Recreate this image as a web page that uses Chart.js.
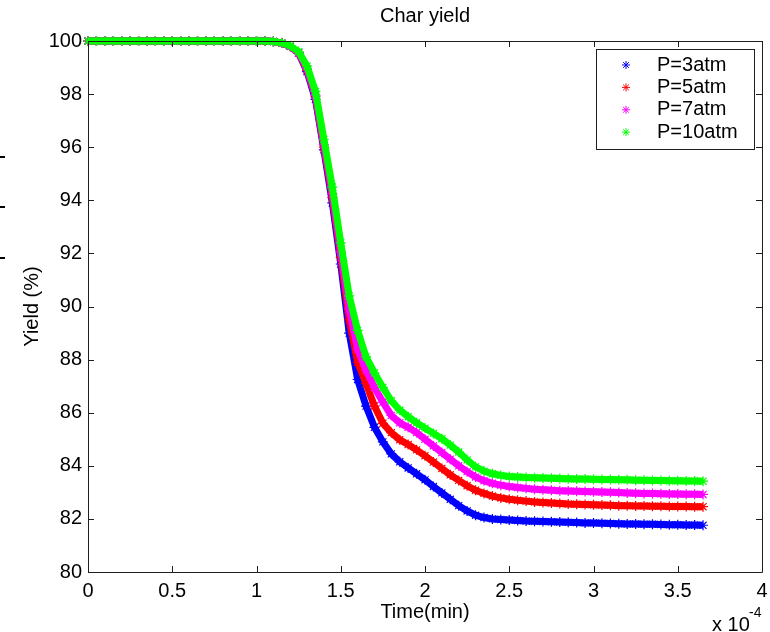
<!DOCTYPE html>
<html>
<head>
<meta charset="utf-8">
<title>Char yield</title>
<script src="https://cdn.jsdelivr.net/npm/chart.js@4.4.1/dist/chart.umd.min.js"></script>
<style>
  html, body { margin: 0; padding: 0; background: #fff; }
  #wrap { width: 770px; height: 632px; }
</style>
</head>
<body>
<div id="wrap"><canvas id="yieldChart" width="770" height="632"></canvas></div>
<script>
// time axis, in units of 1e-4 min
const times = [
  0.00, 0.05, 0.10, 0.15, 0.20, 0.25, 0.30, 0.35, 0.40, 0.45,
  0.50, 0.55, 0.60, 0.65, 0.70, 0.75, 0.80, 0.85, 0.90, 0.95,
  1.00, 1.05, 1.10, 1.15, 1.20, 1.25, 1.30, 1.35, 1.40, 1.45,
  1.50, 1.55, 1.60, 1.65, 1.70, 1.75, 1.80, 1.85, 1.90, 1.95,
  2.00, 2.05, 2.10, 2.15, 2.20, 2.25, 2.30, 2.35, 2.40, 2.45,
  2.50, 2.55, 2.60, 2.65, 2.70, 2.75, 2.80, 2.85, 2.90, 2.95,
  3.00, 3.05, 3.10, 3.15, 3.20, 3.25, 3.30, 3.35, 3.40, 3.45,
  3.50, 3.55, 3.60, 3.65
];

// char yield (%) per pressure
const yield3atm = [
  100, 100, 100, 100, 100, 100, 100, 100, 100, 100,
  100, 100, 100, 100, 100, 100, 100, 100, 100, 100,
  100, 100, 99.98, 99.92, 99.8, 99.55, 98.85, 97.8, 95.9, 93.9,
  91.6, 89.0, 87.25, 86.25, 85.45, 84.9, 84.45, 84.15, 83.92, 83.7,
  83.47, 83.22, 82.98, 82.74, 82.5, 82.3, 82.14, 82.05, 82.0, 81.98,
  81.96, 81.94, 81.92, 81.91, 81.9, 81.89, 81.88, 81.87, 81.86, 81.85,
  81.85, 81.84, 81.83, 81.82, 81.81, 81.81, 81.8, 81.8, 81.79, 81.78,
  81.78, 81.77, 81.77, 81.76
];
const yield5atm = [
  100, 100, 100, 100, 100, 100, 100, 100, 100, 100,
  100, 100, 100, 100, 100, 100, 100, 100, 100, 100,
  100, 100, 99.98, 99.92, 99.8, 99.55, 98.9, 97.9, 96.0, 94.1,
  91.85, 89.5, 87.9, 87.1, 86.25, 85.6, 85.25, 84.98, 84.8, 84.6,
  84.38, 84.14, 83.9, 83.66, 83.45, 83.25, 83.08, 82.96, 82.86, 82.79,
  82.74, 82.7, 82.67, 82.64, 82.62, 82.6, 82.58, 82.56, 82.55, 82.54,
  82.53, 82.52, 82.51, 82.5, 82.5, 82.49, 82.49, 82.48, 82.48, 82.47,
  82.47, 82.47, 82.46, 82.46
];
const yield7atm = [
  100, 100, 100, 100, 100, 100, 100, 100, 100, 100,
  100, 100, 100, 100, 100, 100, 100, 100, 100, 100,
  100, 100, 99.98, 99.92, 99.8, 99.55, 98.95, 97.95, 96.1, 94.25,
  92.05, 89.9, 88.4, 87.6, 86.95, 86.4, 85.9, 85.62, 85.45, 85.25,
  85.0, 84.75, 84.5, 84.25, 84.0, 83.78, 83.58, 83.44, 83.34, 83.27,
  83.22, 83.18, 83.15, 83.12, 83.1, 83.08, 83.06, 83.05, 83.04, 83.03,
  83.02, 83.01, 83.0, 82.99, 82.98, 82.97, 82.96, 82.96, 82.95, 82.94,
  82.94, 82.93, 82.93, 82.92
];
const yield10atm = [
  100, 100, 100, 100, 100, 100, 100, 100, 100, 100,
  100, 100, 100, 100, 100, 100, 100, 100, 100, 100,
  100, 100, 99.98, 99.93, 99.82, 99.6, 99.05, 98.1, 96.3, 94.5,
  92.4, 90.4, 89.1, 88.1, 87.5, 86.95, 86.45, 86.1, 85.85, 85.62,
  85.42, 85.22, 85.02, 84.78, 84.52, 84.22, 83.96, 83.8, 83.7, 83.64,
  83.6, 83.58, 83.56, 83.55, 83.54, 83.53, 83.52, 83.51, 83.5, 83.5,
  83.49, 83.48, 83.48, 83.47, 83.47, 83.46, 83.46, 83.45, 83.45, 83.44,
  83.44, 83.43, 83.43, 83.42
];

const seriesLabels = ['P=3atm', 'P=5atm', 'P=7atm', 'P=10atm'];
const seriesValues = [yield3atm, yield5atm, yield7atm, yield10atm];
const seriesColors = ['#0000ff', '#ff0000', '#ff00ff', '#00ff00'];

const FONT = '"Liberation Sans", Arial, Helvetica, sans-serif';

// axes box with inward ticks on all four sides
const frame = {
  id: 'frame',
  afterDatasetsDraw(chart) {
    const { ctx, chartArea: a, scales: { x, y } } = chart;
    const len = 6;
    ctx.save();
    ctx.strokeStyle = '#1e1e1e';
    ctx.lineWidth = 1;
    ctx.beginPath();
    ctx.rect(a.left + 0.5, a.top + 0.5, a.right - a.left, a.bottom - a.top);
    x.ticks.forEach(t => {
      const px = Math.round(x.getPixelForValue(t.value)) + 0.5;
      ctx.moveTo(px, a.bottom);
      ctx.lineTo(px, a.bottom - len);
      ctx.moveTo(px, a.top);
      ctx.lineTo(px, a.top + len);
    });
    y.ticks.forEach(t => {
      const py = Math.round(y.getPixelForValue(t.value)) + 0.5;
      ctx.moveTo(a.left, py);
      ctx.lineTo(a.left + len, py);
      ctx.moveTo(a.right, py);
      ctx.lineTo(a.right - len, py);
    });
    ctx.stroke();

    // little dashes at the left margin
    ctx.lineWidth = 2;
    ctx.strokeStyle = '#000';
    ctx.beginPath();
    [157, 207, 258].forEach(py => {
      ctx.moveTo(0, py);
      ctx.lineTo(5, py);
    });
    ctx.stroke();
    ctx.restore();
  }
};

// title, exponent note and boxed legend
const annotations = {
  id: 'annotations',
  afterDraw(chart) {
    const { ctx, chartArea: a } = chart;
    ctx.save();
    ctx.fillStyle = '#000';
    ctx.font = `20px ${FONT}`;
    ctx.textAlign = 'center';
    ctx.textBaseline = 'middle';
    ctx.fillText('Char yield', (a.left + a.right) / 2, 16);

    ctx.textAlign = 'left';
    ctx.textBaseline = 'alphabetic';
    ctx.fillText('x 10', 712, 631);
    ctx.font = `14px ${FONT}`;
    ctx.fillText('-4', 749, 617);

    // legend box
    const box = { left: 596, top: 49, width: 158, height: 100 };
    ctx.fillStyle = '#fff';
    ctx.fillRect(box.left, box.top, box.width, box.height);
    ctx.strokeStyle = '#1e1e1e';
    ctx.lineWidth = 1;
    ctx.strokeRect(box.left + 0.5, box.top + 0.5, box.width, box.height);

    ctx.font = `20px ${FONT}`;
    ctx.textBaseline = 'middle';
    chart.data.datasets.forEach((ds, i) => {
      const cy = 65 + i * 22.4;
      ctx.strokeStyle = ds.borderColor;
      ctx.fillStyle = ds.borderColor;
      Chart.helpers.drawPoint(ctx, {
        pointStyle: 'star', radius: 4, borderWidth: 1, rotation: 0
      }, 626, cy);
      ctx.fillStyle = '#000';
      ctx.fillText(ds.label, 657, cy);
    });
    ctx.restore();
  }
};

const ctx = document.getElementById('yieldChart').getContext('2d');

new Chart(ctx, {
  type: 'line',
  data: {
    datasets: seriesLabels.map((label, i) => ({
      label: label,
      data: times.map((t, k) => ({ x: t, y: seriesValues[i][k] })),
      borderColor: seriesColors[i],
      backgroundColor: seriesColors[i],
      borderWidth: 7,
      pointStyle: 'star',
      pointRadius: 5,
      pointHoverRadius: 5,
      pointBorderWidth: 1.2,
      tension: 0,
      clip: false,
      // higher pressure drawn on top
      order: seriesLabels.length - 1 - i,
    })),
  },
  options: {
    responsive: false,
    animation: false,
    events: [],
    layout: {
      padding: { top: 41, right: 8, bottom: 0, left: 0 },
    },
    plugins: {
      legend: { display: false },
      tooltip: { enabled: false },
      title: { display: false },
    },
    scales: {
      x: {
        type: 'linear',
        min: 0,
        max: 4,
        afterFit: s => {
          s.height = 60;
          s.paddingLeft = 0;
          s.paddingRight = 0;
        },
        border: { display: false },
        grid: { display: false, drawTicks: false },
        ticks: {
          stepSize: 0.5,
          padding: 7,
          color: '#000',
          maxRotation: 0,
          autoSkip: false,
          font: { family: FONT, size: 20 },
          callback: v => String(Number(v.toFixed(1))),
        },
        title: {
          display: true,
          text: 'Time(min)',
          color: '#000',
          font: { family: FONT, size: 20 },
          padding: { top: 0, bottom: 8 },
        },
      },
      y: {
        type: 'linear',
        min: 80,
        max: 100,
        afterFit: s => {
          s.width = 88;
          s.paddingTop = 0;
          s.paddingBottom = 0;
        },
        border: { display: false },
        grid: { display: false, drawTicks: false },
        ticks: {
          stepSize: 2,
          padding: 6,
          color: '#000',
          autoSkip: false,
          font: { family: FONT, size: 20 },
        },
        title: {
          display: true,
          text: 'Yield (%)',
          color: '#000',
          font: { family: FONT, size: 20 },
          padding: { top: 20, bottom: 0 },
        },
      },
    },
  },
  plugins: [frame, annotations],
});
</script>
</body>
</html>
